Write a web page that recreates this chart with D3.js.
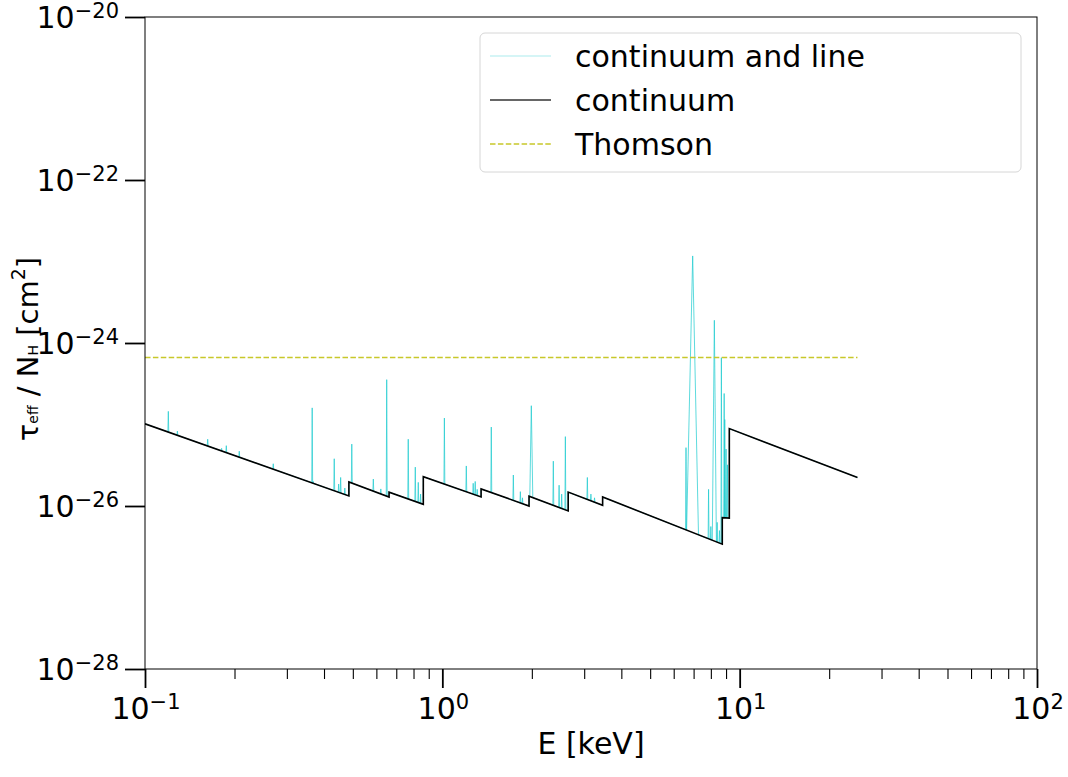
<!DOCTYPE html>
<html><head><meta charset="utf-8">
<script src="https://cdn.jsdelivr.net/npm/d3@7"></script>
<style>
body{margin:0;background:#fff}
text{font-family:"DejaVu Sans",sans-serif;fill:#000}
</style></head>
<body><svg id="c" width="1068" height="777"></svg>
<script>
// ---------- data ----------
// continuum: piecewise power law with absorption edges (E in keV, tau/NH in cm^2)
const contE = [0.1, 0.485, 0.485, 0.662, 0.662, 0.863, 0.863, 1.35, 1.35, 1.957, 1.957, 2.65, 2.65, 3.46, 3.46, 8.74, 8.74, 9.23, 9.23, 24.9];
const contV = [1.02e-25, 1.33e-26, 1.97e-26, 1.29e-26, 1.48e-26, 1.05e-26, 2.29e-26, 1.29e-26, 1.62e-26, 1.0e-26, 1.32e-26, 8.7e-27, 1.48e-26, 1.02e-26, 1.29e-26, 3.4e-27, 7.2e-27, 7.1e-27, 8.9e-26, 2.24e-26];
// lines on top of the continuum: centre energy, peak value, half-width (keV, 0 = unresolved)
const lineE = [0.1198, 0.1285, 0.1625, 0.181, 0.1877, 0.2075, 0.270, 0.365, 0.368, 0.433, 0.448, 0.455, 0.47, 0.496, 0.586, 0.621, 0.650, 0.768, 0.811, 0.830, 0.845,
               1.016, 1.204, 1.27, 1.29, 1.31, 1.461, 1.733, 1.83, 1.86, 1.992, 2.362, 2.47, 2.52, 2.593, 3.074, 3.16, 3.25,
               6.60, 6.95, 7.86, 8.0, 8.22, 8.4, 8.55, 8.68, 8.87, 8.91, 9.0, 9.1];
const lineV = [1.45e-25, 8.3e-26, 6.6e-26, 5.1e-26, 5.5e-26, 4.7e-26, 3.3e-26, 1.6e-25, 2.0e-26, 3.8e-26, 1.86e-26, 2.24e-26, 1.66e-26, 5.75e-26, 2.14e-26, 1.62e-26, 3.55e-25, 6.6e-26, 3.0e-26, 1.95e-26, 1.4e-26,
               1.2e-25, 3.1e-26, 1.9e-26, 2.0e-26, 1.6e-26, 9.3e-26, 2.4e-26, 1.5e-26, 1.26e-26, 1.7e-25, 3.55e-26, 1.8e-26, 1.4e-26, 7.1e-26, 2.24e-26, 1.4e-26, 1.26e-26,
               5.2e-26, 1.17e-23, 1.6e-26, 5.6e-27, 1.9e-24, 6.3e-27, 5.0e-27, 6.6e-25, 2.4e-25, 1.15e-25, 5.0e-26, 3.2e-26];
const lineW = [0,0,0,0,0,0,0,0,0,0,0,0,0,0,0,0,0,0,0,0,0,
               0,0,0,0,0,0,0,0,0,0.023,0,0,0,0,0,0,0,
               0,0.32,0,0,0.13,0,0,0,0,0,0,0];
const thomsonE = [0.1, 24.9];
const thomsonV = [6.65e-25, 6.65e-25];
const xTickExp = [-1, 0, 1, 2];
const yTickExp = [-28, -26, -24, -22, -20];
const legendLabels = ["continuum and line", "continuum", "Thomson"];

// ---------- layout ----------
const L = 145, R = 1037, T = 17, B = 669;
const svg = d3.select("#c");
const x = d3.scaleLog().domain([0.1, 100]).range([L, R]);
const y = d3.scaleLog().domain([1e-28, 1e-20]).range([B, T]);

svg.append("defs").append("clipPath").attr("id", "clip")
  .append("rect").attr("x", L).attr("y", T).attr("width", R - L).attr("height", B - T);

// continuum value at E (log-linear between vertices)
function contAt(E, i) {
  const e0 = Math.log10(contE[i]), e1 = Math.log10(contE[i + 1]);
  const v0 = Math.log10(contV[i]), v1 = Math.log10(contV[i + 1]);
  const t = (Math.log10(E) - e0) / (e1 - e0);
  return Math.pow(10, v0 + t * (v1 - v0));
}

// build the continuum+line curve
const lineIdx = d3.range(lineE.length).sort((a, b) => lineE[a] - lineE[b]);
const pts = [];
for (let i = 0; i < contE.length - 1; i++) {
  if (contE[i + 1] <= contE[i]) { continue; }
  pts.push([contE[i], contV[i]]);
  lineIdx.forEach(k => {
    const E = lineE[k];
    if (E >= contE[i] && E < contE[i + 1]) {
      const w = lineW[k] > 0 ? lineW[k] : E * 0.0035;
      const a = Math.max(contE[i], E - w), b = Math.min(contE[i + 1], E + w);
      pts.push([a, contAt(a, i)]);
      pts.push([E, lineV[k]]);
      pts.push([b, contAt(b, i)]);
    }
  });
  pts.push([contE[i + 1], contV[i + 1]]);
}
const lineGen = d3.line().x(d => x(d[0])).y(d => y(d[1]));
const g = svg.append("g").attr("clip-path", "url(#clip)");

g.append("path").datum(pts).attr("d", lineGen)
  .attr("fill", "none").attr("stroke", "#1fcbcf").attr("stroke-width", 0.9)
  .attr("stroke-opacity", 0.8).attr("stroke-linejoin", "round");

g.append("path").datum(contE.map((e, i) => [e, contV[i]])).attr("d", lineGen)
  .attr("fill", "none").attr("stroke", "#000").attr("stroke-width", 1.6);

g.append("path").datum(thomsonE.map((e, i) => [e, thomsonV[i]])).attr("d", lineGen)
  .attr("fill", "none").attr("stroke", "#c8c82a").attr("stroke-width", 1.5)
  .attr("stroke-dasharray", "5.5,2.4");

// ---------- axes ----------
const xMajor = xTickExp.map(e => Math.pow(10, e));
const xMinor = [];
for (let e = -1; e < 2; e++) for (let m = 2; m <= 9; m++) xMinor.push(m * Math.pow(10, e));
const yMajor = yTickExp.map(e => Math.pow(10, e));

const fmtNone = () => "";
const gx = svg.append("g").attr("transform", `translate(0,${B})`);
gx.call(d3.axisBottom(x).tickValues(xMajor).tickSize(19).tickFormat(fmtNone));
gx.selectAll(".tick line").attr("stroke-width", 1.8);
const gxm = svg.append("g").attr("transform", `translate(0,${B})`);
gxm.call(d3.axisBottom(x).tickValues(xMinor).tickSize(10).tickFormat(fmtNone));
gxm.selectAll(".tick line").attr("stroke-width", 1.1);
gxm.select(".domain").remove();
gx.select(".domain").remove();

const gy = svg.append("g").attr("transform", `translate(${L},0)`);
gy.call(d3.axisLeft(y).tickValues(yMajor).tickSize(20).tickFormat(fmtNone));
gy.selectAll(".tick line").attr("stroke-width", 1.8);
gy.select(".domain").remove();

// frame
svg.append("rect").attr("x", L).attr("y", T).attr("width", R - L).attr("height", B - T)
  .attr("fill", "none").attr("stroke", "#000").attr("stroke-width", 1);

// tick labels
function pow10Label(sel, exp) {
  sel.append("tspan").text("10");
  sel.append("tspan").attr("font-size", 21).attr("dy", -10)
    .text((exp < 0 ? "\u2212" : "") + Math.abs(exp));
}
xTickExp.forEach((e, i) => {
  const t = svg.append("text").attr("x", x(xMajor[i]) + 1).attr("y", 719)
    .attr("text-anchor", "middle").attr("font-size", 30);
  pow10Label(t, e);
});
yTickExp.forEach((e, i) => {
  const t = svg.append("text").attr("x", 119).attr("y", y(yMajor[i]) + 11)
    .attr("text-anchor", "end").attr("font-size", 30);
  pow10Label(t, e);
});

// axis labels
svg.append("text").attr("x", 591).attr("y", 754).attr("text-anchor", "middle")
  .attr("font-size", 30).text("E [keV]");

const yl = svg.append("text").attr("transform", "translate(38,349) rotate(-90)")
  .attr("text-anchor", "middle").attr("font-size", 29);
yl.append("tspan").text("\u03c4");
yl.append("tspan").attr("font-size", 14).text("eff");
yl.append("tspan").text(" / N");
yl.append("tspan").attr("font-size", 14).text("H");
yl.append("tspan").text(" [cm");
yl.append("tspan").attr("font-size", 19).attr("dy", -13).text("2");
yl.append("tspan").attr("dy", 13).text("]");

// ---------- legend ----------
const lg = svg.append("g");
lg.append("rect").attr("x", 480).attr("y", 33).attr("width", 541).attr("height", 139)
  .attr("rx", 5).attr("fill", "#fff").attr("fill-opacity", 0.8)
  .attr("stroke", "#d6d6d6").attr("stroke-width", 1);
const legStyles = [
  {stroke: "#1fcbcf", op: 0.25, w: 1.5, dash: null},
  {stroke: "#000", op: 0.8, w: 1.6, dash: null},
  {stroke: "#c8c82a", op: 1, w: 1.5, dash: "5.5,2.4"}
];
legendLabels.forEach((lab, i) => {
  const yy = 56 + i * 44;
  const s = legStyles[i];
  lg.append("line").attr("x1", 490).attr("x2", 551).attr("y1", yy).attr("y2", yy)
    .attr("stroke", s.stroke).attr("stroke-opacity", s.op).attr("stroke-width", s.w)
    .attr("stroke-dasharray", s.dash);
  lg.append("text").attr("x", 575).attr("y", yy + 11).attr("font-size", 30).text(lab);
});
</script></body></html>
